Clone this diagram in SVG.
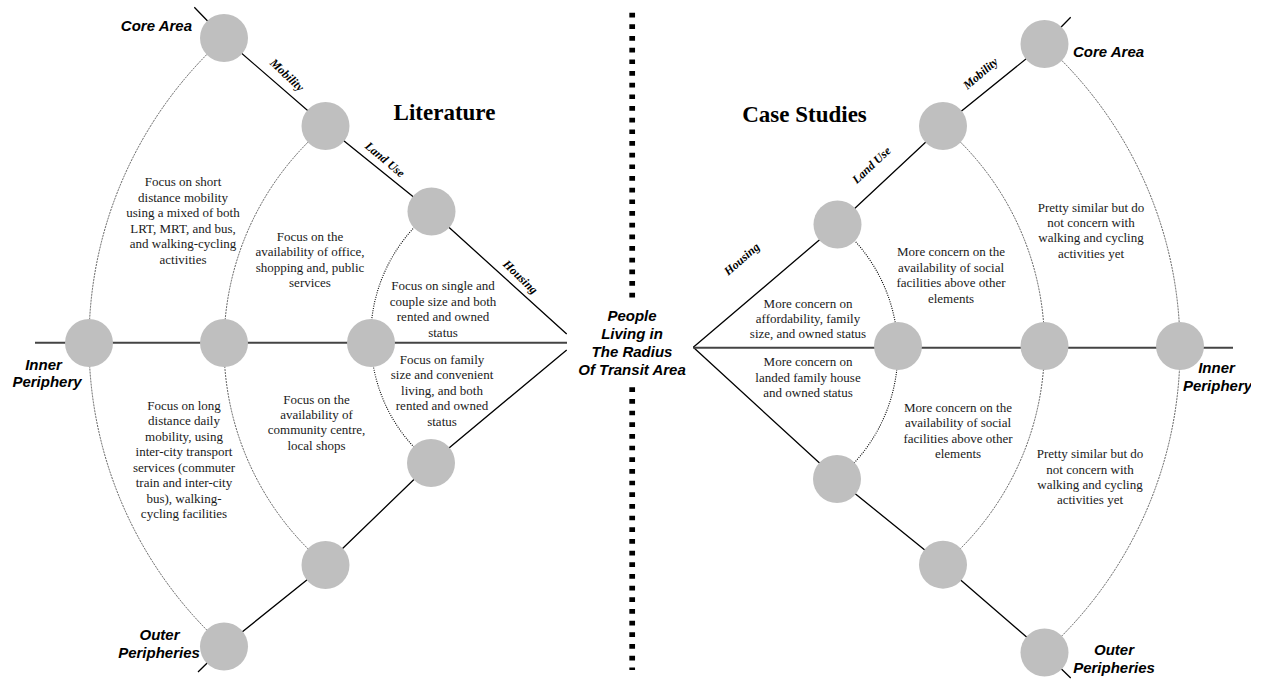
<svg xmlns="http://www.w3.org/2000/svg" width="1264" height="679" viewBox="0 0 1264 679">
  <defs>
    <style>
      .axis { fill: none; stroke: #000; stroke-width: 1.3; }
      .ring { fill: none; stroke: #3a3a3a; stroke-width: 0.8; stroke-dasharray: 2 1; }
      .ring-in { fill: none; stroke: #000; stroke-width: 1.1; stroke-dasharray: 1 1.3; }
      .hline { fill: none; stroke: #444; stroke-width: 2; }
      .node { fill: #bfbfbf; stroke: none; }
      .divider { fill: none; stroke: #000; stroke-width: 5.7; stroke-dasharray: 4.7 6.97; }
      .body { font-family: "Liberation Serif", "Times New Roman", serif; font-size: 13px; fill: #1a1a1a; text-anchor: middle; }
      .tag { font-family: "Liberation Serif", "Times New Roman", serif; font-size: 12px; font-weight: bold; font-style: italic; fill: #000; text-anchor: middle; }
      .zone { font-family: "Liberation Sans", Arial, sans-serif; font-size: 15px; font-weight: bold; font-style: italic; fill: #000; }
      .title { font-family: "Liberation Serif", "Times New Roman", serif; font-size: 23px; font-weight: bold; fill: #000; text-anchor: middle; }
    </style>
    <clipPath id="edge-clip">
      <rect x="0" y="0" width="1251" height="679"/>
    </clipPath>
  </defs>

  <rect x="0" y="0" width="1264" height="679" fill="#fff"/>

  <!-- connectors: spokes, rings, divider -->
  <g id="connectors">
    <!-- left half -->
    <polyline class="axis" points="194.3,7.3 224,38 325.5,126 431.5,211.5 566.7,334"/>
    <polyline class="axis" points="566.7,350 431,463 325.5,565 224,646.5 198,672"/>
    <line class="hline" x1="35" y1="342.7" x2="567" y2="342.7"/>
    <path class="ring" d="M224,38 A410.3,410.3 0 0 0 224,646.5"/>
    <path class="ring" d="M325.5,126 A288.1,288.1 0 0 0 325.5,565"/>
    <path class="ring-in" d="M431.5,211.5 A160.9,160.9 0 0 0 431,463"/>

    <!-- right half -->
    <polyline class="axis" points="693.3,347.3 837.5,224.5 943,126 1044.5,44 1070.7,17.3"/>
    <polyline class="axis" points="693.3,347.3 837,479 943,564.7 1044.5,652.5 1070.7,678"/>
    <line class="hline" x1="693.3" y1="347.7" x2="1233" y2="347.7"/>
    <path class="ring" d="M1044.5,44 A409.3,409.3 0 0 1 1044.5,652.5"/>
    <path class="ring" d="M943,126 A287.8,287.8 0 0 1 943,564.7"/>
    <path class="ring-in" d="M837.5,224.5 A164,164 0 0 1 837,479"/>

    <!-- centre divider -->
    <line class="divider" x1="632.2" y1="12.7" x2="632.2" y2="298"/>
    <line class="divider" x1="632.2" y1="387.3" x2="632.2" y2="670"/>
  </g>

  <!-- left nodes -->
  <g id="l-core"><circle class="node" cx="224" cy="38" r="24"/></g>
  <g id="l-mobility"><circle class="node" cx="325.5" cy="126" r="24"/></g>
  <g id="l-landuse"><circle class="node" cx="431.5" cy="211.5" r="24"/></g>
  <g id="l-inner-1"><circle class="node" cx="89" cy="343" r="24"/></g>
  <g id="l-inner-2"><circle class="node" cx="224" cy="343" r="24"/></g>
  <g id="l-inner-3"><circle class="node" cx="371" cy="343" r="24"/></g>
  <g id="l-housing-low"><circle class="node" cx="431" cy="463" r="24"/></g>
  <g id="l-mobility-low"><circle class="node" cx="325.5" cy="565" r="24"/></g>
  <g id="l-outer"><circle class="node" cx="224" cy="646.5" r="24"/></g>

  <!-- right nodes -->
  <g id="r-core"><circle class="node" cx="1044.5" cy="44" r="24"/></g>
  <g id="r-mobility"><circle class="node" cx="943" cy="126" r="24"/></g>
  <g id="r-landuse"><circle class="node" cx="837.5" cy="224.5" r="24"/></g>
  <g id="r-inner-1"><circle class="node" cx="898" cy="346" r="24"/></g>
  <g id="r-inner-2"><circle class="node" cx="1044.5" cy="346" r="24"/></g>
  <g id="r-inner-3"><circle class="node" cx="1180" cy="346" r="24"/></g>
  <g id="r-housing-low"><circle class="node" cx="837" cy="479" r="24"/></g>
  <g id="r-mobility-low"><circle class="node" cx="943" cy="564.7" r="24"/></g>
  <g id="r-outer"><circle class="node" cx="1044.5" cy="652.5" r="24"/></g>

  <!-- titles -->
  <g id="titles">
    <text class="title" x="444.5" y="120">Literature</text>
    <text class="title" x="804.5" y="122">Case Studies</text>
  </g>

  <!-- zone labels -->
  <g id="zone-labels">
    <text class="zone" x="192" y="30.5" text-anchor="end">Core Area</text>
    <text class="zone" x="43.5" y="370" text-anchor="middle">Inner</text>
    <text class="zone" x="47" y="387" text-anchor="middle">Periphery</text>
    <text class="zone" x="159.5" y="640" text-anchor="middle">Outer</text>
    <text class="zone" x="159" y="658" text-anchor="middle">Peripheries</text>

    <text class="zone" x="1073" y="57">Core Area</text>
    <text class="zone" x="1216.5" y="373" text-anchor="middle">Inner</text>
    <text class="zone" x="1217.5" y="391" text-anchor="middle" clip-path="url(#edge-clip)">Periphery</text>
    <text class="zone" x="1114" y="655" text-anchor="middle">Outer</text>
    <text class="zone" x="1114" y="673" text-anchor="middle">Peripheries</text>
  </g>

  <!-- centre label -->
  <g id="centre">
    <text class="zone" x="632" y="320.5" text-anchor="middle">People</text>
    <text class="zone" x="632" y="338.5" text-anchor="middle">Living in</text>
    <text class="zone" x="632" y="356.5" text-anchor="middle">The Radius</text>
    <text class="zone" x="632" y="374.5" text-anchor="middle">Of Transit Area</text>
  </g>

  <!-- spoke labels -->
  <g id="spoke-labels">
    <text class="tag" transform="translate(287,75) rotate(43)" y="4">Mobility</text>
    <text class="tag" transform="translate(385,159.5) rotate(40)" y="4">Land Use</text>
    <text class="tag" transform="translate(520.5,277) rotate(44)" y="4">Housing</text>
    <text class="tag" transform="translate(980.5,73.5) rotate(-41)" y="4">Mobility</text>
    <text class="tag" transform="translate(871.5,165) rotate(-43)" y="4">Land Use</text>
    <text class="tag" transform="translate(741.7,259) rotate(-41)" y="4">Housing</text>
  </g>

  <!-- left descriptions -->
  <g id="l-text-mobility-core" class="body">
    <text x="183" y="186">Focus on short</text>
    <text x="183" y="201.5">distance mobility</text>
    <text x="183" y="217">using a mixed of both</text>
    <text x="183" y="232.5">LRT, MRT, and bus,</text>
    <text x="183" y="248">and walking-cycling</text>
    <text x="183" y="263.5">activities</text>
  </g>
  <g id="l-text-landuse-core" class="body">
    <text x="310" y="240.5">Focus on the</text>
    <text x="310" y="256">availability of office,</text>
    <text x="310" y="271.5">shopping and, public</text>
    <text x="310" y="287">services</text>
  </g>
  <g id="l-text-housing-core" class="body">
    <text x="443" y="290">Focus on single and</text>
    <text x="443" y="305.5">couple size and both</text>
    <text x="443" y="321">rented and owned</text>
    <text x="443" y="336.5">status</text>
  </g>
  <g id="l-text-housing-outer" class="body">
    <text x="442" y="363.8">Focus on family</text>
    <text x="442" y="379.3">size and convenient</text>
    <text x="442" y="394.8">living, and both</text>
    <text x="442" y="410.3">rented and owned</text>
    <text x="442" y="425.8">status</text>
  </g>
  <g id="l-text-mobility-outer" class="body">
    <text x="184" y="409.5">Focus on long</text>
    <text x="184" y="425">distance daily</text>
    <text x="184" y="440.5">mobility, using</text>
    <text x="184" y="456">inter-city transport</text>
    <text x="184" y="471.5">services (commuter</text>
    <text x="184" y="487">train and inter-city</text>
    <text x="184" y="502.5">bus), walking-</text>
    <text x="184" y="518">cycling facilities</text>
  </g>
  <g id="l-text-landuse-outer" class="body">
    <text x="316.5" y="403.8">Focus on the</text>
    <text x="316.5" y="419">availability of</text>
    <text x="316.5" y="434.3">community centre,</text>
    <text x="316.5" y="449.6">local shops</text>
  </g>

  <!-- right descriptions -->
  <g id="r-text-mobility-core" class="body">
    <text x="1091" y="211.6">Pretty similar but do</text>
    <text x="1091" y="226.9">not concern with</text>
    <text x="1091" y="242.2">walking and cycling</text>
    <text x="1091" y="257.5">activities yet</text>
  </g>
  <g id="r-text-landuse-core" class="body">
    <text x="951" y="256">More concern on the</text>
    <text x="951" y="271.5">availability of social</text>
    <text x="951" y="287">facilities above other</text>
    <text x="951" y="302.5">elements</text>
  </g>
  <g id="r-text-housing-core" class="body">
    <text x="808" y="308">More concern on</text>
    <text x="808" y="323">affordability, family</text>
    <text x="808" y="338">size, and owned status</text>
  </g>
  <g id="r-text-housing-outer" class="body">
    <text x="808" y="366">More concern on</text>
    <text x="808" y="381.5">landed family house</text>
    <text x="808" y="397">and owned status</text>
  </g>
  <g id="r-text-landuse-outer" class="body">
    <text x="958" y="411.5">More concern on the</text>
    <text x="958" y="427">availability of social</text>
    <text x="958" y="442.5">facilities above other</text>
    <text x="958" y="458">elements</text>
  </g>
  <g id="r-text-mobility-outer" class="body">
    <text x="1090" y="458">Pretty similar but do</text>
    <text x="1090" y="473.5">not concern with</text>
    <text x="1090" y="488.5">walking and cycling</text>
    <text x="1090" y="504">activities yet</text>
  </g>
</svg>
